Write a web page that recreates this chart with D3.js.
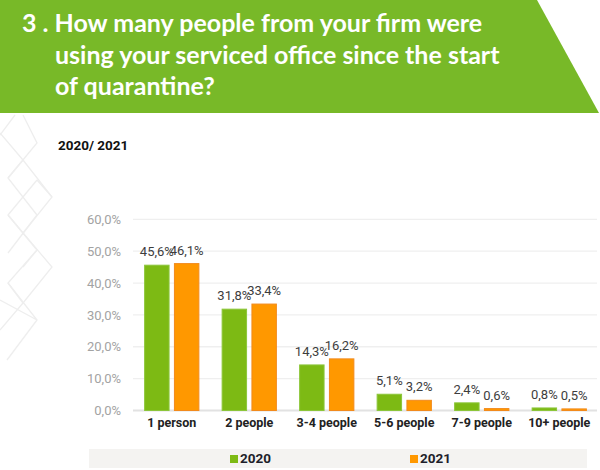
<!DOCTYPE html>
<html>
<head>
<meta charset="utf-8">
<script src="https://cdn.jsdelivr.net/npm/d3@7"></script>
<style>
  body { margin: 0; background: #fff; }
  svg { display: block; }
</style>
</head>
<body>
<svg id="chart" width="600" height="470"></svg>
<script>
// data
var categories = ["1 person", "2 people", "3-4 people", "5-6 people", "7-9 people", "10+ people"];
var seriesNames = ["2020", "2021"];
var values2020 = [45.6, 31.8, 14.3, 5.1, 2.4, 0.8];
var values2021 = [46.1, 33.4, 16.2, 3.2, 0.6, 0.5];
var yTicks = [0, 10, 20, 30, 40, 50, 60];
var titleLines = ["3 . How many people from your firm were", "using your serviced office since the start", "of quarantine?"];

var svg = d3.select("#chart"),
    width = +svg.attr("width"),
    height = +svg.attr("height");

var colors = { "2020": "#7dba14", "2021": "#ff9800" };
var strokes = { "2020": "#8cc63a", "2021": "#f28a1c" };

// decorative diamond lattice on the left
var deco = [
    [[15, 115], [0, 135]],
    [[23, 115], [37, 143], [8, 178], [37, 215], [8, 253]],
    [[0, 133], [23, 160], [52, 197], [23, 233], [52, 267], [23, 303], [0, 330]],
    [[37, 180], [8, 215], [37, 250], [8, 283], [37, 320], [7, 360]],
    [[23, 160], [8, 178]],
    [[37, 180], [52, 197]],
    [[23, 233], [8, 215]],
    [[23, 267], [37, 250]],
    [[23, 303], [8, 283]],
    [[0, 300], [37, 320]]
];
svg.append("g")
    .selectAll("path")
    .data(deco)
    .enter().append("path")
    .attr("d", d3.line())
    .attr("fill", "none")
    .attr("stroke", "#eeeeee")
    .attr("stroke-width", 1.3);

// header banner
svg.append("path")
    .attr("d", "M0,0 L537,0 L599,113 L0,113 Z")
    .attr("fill", "#78b928");

svg.append("g")
    .selectAll("text")
    .data(titleLines)
    .enter().append("text")
    .attr("x", function(d, i) { return i === 0 ? 22 : 55; })
    .attr("y", function(d, i) { return 32 + i * 31.5; })
    .attr("fill", "#fff")
    .style("font-family", "Lato, sans-serif")
    .style("font-weight", 700)
    .style("font-size", "25px")
    .text(function(d) { return d; });

svg.append("text")
    .attr("x", 58)
    .attr("y", 150)
    .attr("fill", "#111")
    .style("font-family", "Roboto, sans-serif")
    .style("font-weight", 700)
    .style("font-size", "13.5px")
    .text("2020/ 2021");

// scales
var x0 = d3.scaleBand()
    .domain(categories)
    .range([133, 598])
    .paddingInner(0.3)
    .paddingOuter(0.15);

var x1 = d3.scaleBand()
    .domain(seriesNames)
    .range([0, x0.bandwidth()])
    .paddingInner(0.18);

var y = d3.scaleLinear()
    .domain([0, 60])
    .range([410.5, 219.3]);

// gridlines
svg.append("g")
    .selectAll("line")
    .data(yTicks)
    .enter().append("line")
    .attr("x1", 133)
    .attr("x2", 597)
    .attr("y1", function(d) { return y(d); })
    .attr("y2", function(d) { return y(d); })
    .attr("stroke", function(d) { return d === 0 ? "#e2e2e2" : "#efefef"; })
    .attr("stroke-width", function(d) { return d === 0 ? 2 : 1.3; });

// y axis labels
var yAxis = d3.axisLeft(y)
    .tickValues(yTicks)
    .tickSize(0)
    .tickPadding(0)
    .tickFormat(function(d) { return d3.format(".1f")(d).replace(".", ",") + "%"; });

var yG = svg.append("g")
    .attr("transform", "translate(121,0)")
    .call(yAxis);
yG.select(".domain").remove();
yG.selectAll("text")
    .attr("fill", "#a3a3a3")
    .style("font-family", "Roboto, sans-serif")
    .style("font-size", "13px");

// x axis labels
var xAxis = d3.axisBottom(x0).tickSize(0).tickPadding(0);
var xG = svg.append("g")
    .attr("transform", "translate(0,418)")
    .call(xAxis);
xG.select(".domain").remove();
xG.selectAll("text")
    .attr("fill", "#222")
    .style("font-family", "Roboto, sans-serif")
    .style("font-weight", 700)
    .style("font-size", "12.5px");

// bars
var rows = categories.map(function(c, i) {
    return { cat: c, vals: [
        { key: "2020", value: values2020[i] },
        { key: "2021", value: values2021[i] }
    ] };
});

var group = svg.append("g")
    .selectAll("g")
    .data(rows)
    .enter().append("g")
    .attr("transform", function(d) { return "translate(" + x0(d.cat) + ",0)"; });

group.selectAll("rect")
    .data(function(d) { return d.vals; })
    .enter().append("rect")
    .attr("x", function(d) { return x1(d.key); })
    .attr("width", x1.bandwidth())
    .attr("y", function(d) { return y(d.value); })
    .attr("height", function(d) { return y(0) - y(d.value); })
    .attr("fill", function(d) { return colors[d.key]; })
    .attr("stroke", function(d) { return strokes[d.key]; })
    .attr("stroke-width", 1);

group.selectAll("text")
    .data(function(d) { return d.vals; })
    .enter().append("text")
    .attr("x", function(d) { return x1(d.key) + x1.bandwidth() / 2; })
    .attr("y", function(d) { return y(d.value) - 9; })
    .attr("text-anchor", "middle")
    .attr("fill", "#3d3d3d")
    .style("font-family", "Roboto, sans-serif")
    .style("font-size", "13px")
    .text(function(d) { return d3.format(".1f")(d.value).replace(".", ",") + "%"; });

// legend
svg.append("rect")
    .attr("x", 89)
    .attr("y", 449)
    .attr("width", 498)
    .attr("height", 19)
    .attr("fill", "#f4f3f1");

var legendX = { "2020": 230, "2021": 410 };
var legend = svg.append("g")
    .selectAll("g")
    .data(seriesNames)
    .enter().append("g")
    .attr("transform", function(d) { return "translate(" + legendX[d] + ",0)"; });

legend.append("rect")
    .attr("x", 0)
    .attr("y", 455)
    .attr("width", 8)
    .attr("height", 8)
    .attr("fill", function(d) { return colors[d]; });

legend.append("text")
    .attr("x", 10)
    .attr("y", 462.5)
    .attr("fill", "#1e1e2a")
    .style("font-family", "Roboto, sans-serif")
    .style("font-weight", 700)
    .style("font-size", "13.5px")
    .text(function(d) { return d; });
</script>
</body>
</html>
